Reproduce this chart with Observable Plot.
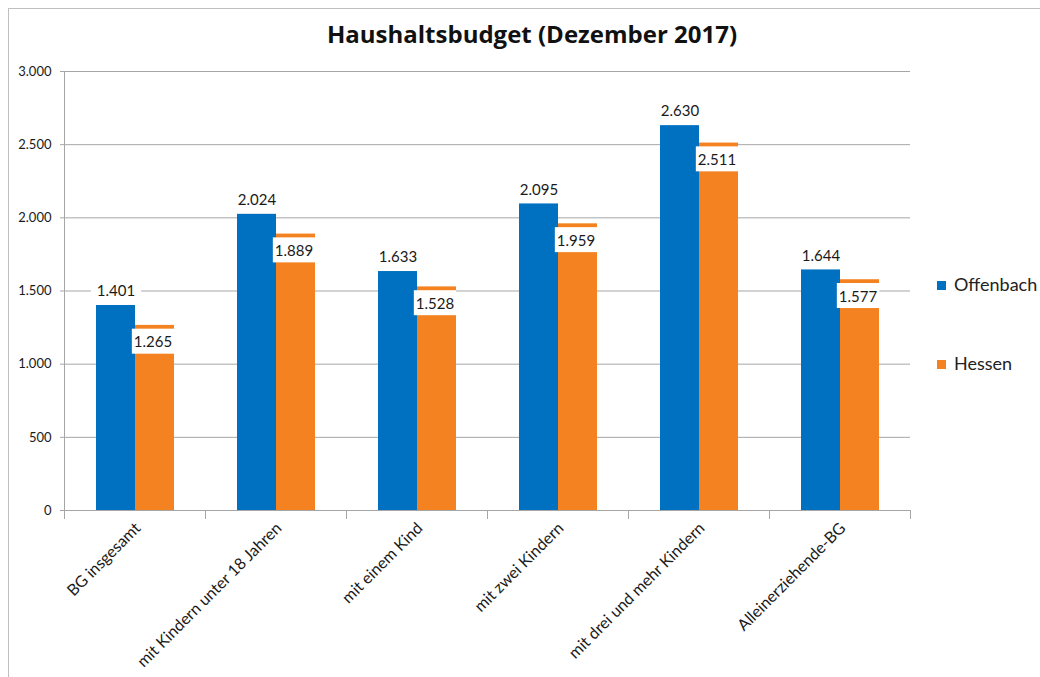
<!DOCTYPE html>
<html><head><meta charset="utf-8">
<script src="https://cdn.jsdelivr.net/npm/d3@7"></script>
<script src="https://cdn.jsdelivr.net/npm/@observablehq/plot@0.6"></script>
<style>
body{margin:0;background:#fff;font-family:Lato, "Open Sans", sans-serif;}
#wrap{position:relative;width:1040px;height:677px;overflow:hidden;background:#fff;}
#border{position:absolute;left:8px;top:8px;width:1100px;height:700px;border-left:1px solid #bfbfbf;border-top:1px solid #bfbfbf;}
#title{position:absolute;top:19px;left:0;width:1064px;text-align:center;font-family:"Open Sans", sans-serif;font-weight:bold;font-size:24px;line-height:30px;color:#111;}
#chart{position:absolute;left:0;top:0;}
.leg{position:absolute;left:937px;font-size:18px;color:#222;line-height:20px;height:20px;white-space:nowrap;}
.leg span.sw{display:inline-block;width:9px;height:9px;margin-right:8px;vertical-align:1px;}
</style>
</head><body>
<div id="wrap">
  <div id="border"></div>
  <div id="chart"></div>
  <div id="title">Haushaltsbudget (Dezember 2017)</div>
  <div id="legend"></div>
</div>
<script>
const categories = ["BG insgesamt","mit Kindern unter 18 Jahren","mit einem Kind","mit zwei Kindern","mit drei und mehr Kindern","Alleinerziehende-BG"];
const series = ["Offenbach","Hessen"];
const offenbach = [1401,2024,1633,2095,2630,1644];
const hessen = [1265,1889,1528,1959,2511,1577];
const yTicks = [0,500,1000,1500,2000,2500,3000];
const colors = ["#0070C0","#F58220"];

const de = d3.formatLocale({decimal:",",thousands:".",grouping:[3],currency:["","€"]});
const fmt = de.format(",");

const data = [];
categories.forEach((c,i)=>{
  data.push({cat:c, series:"Offenbach", value:offenbach[i]});
  data.push({cat:c, series:"Hessen", value:hessen[i]});
});
const gray = "#a6a6a6";

const chart = Plot.plot({
  width:1040, height:677,
  marginLeft:62, marginRight:128, marginTop:71, marginBottom:167,
  style:{fontFamily:"Lato, 'Open Sans', sans-serif", background:"transparent", color:"#1a1a1a"},
  fx:{domain:categories, paddingInner:0, paddingOuter:0, label:null},
  x:{domain:series, paddingInner:0, paddingOuter:0.77, axis:null},
  y:{domain:[0,3000], label:null},
  color:{domain:series, range:colors},
  marks:[
    Plot.gridY(yTicks.filter(d=>d>0), {stroke:gray, strokeOpacity:1}),
    Plot.axisY({ticks:yTicks, tickFormat:fmt, tickSize:4, tickPadding:9, fontSize:13, stroke:gray, strokeOpacity:1, label:null}),
    Plot.axisFx({anchor:"bottom", tickRotate:-45, tickSize:0, tickPadding:15, dx:3, fontSize:16, label:null}),
    Plot.barY(data, {fx:"cat", x:"series", y:"value", fill:"series"}),
    Plot.ruleY([0], {stroke:gray}),
    Plot.frame({anchor:"left", facetAnchor:"left", stroke:gray}),
    Plot.frame({anchor:"left", stroke:gray, insetTop:439, insetBottom:-8}),
    Plot.frame({anchor:"right", facetAnchor:"right", stroke:gray, insetTop:439, insetBottom:-8}),
    Plot.text(data.filter(d=>d.series==="Offenbach"), {fx:"cat", x:"series", y:"value", text:d=>fmt(d.value), dy:-14, fontSize:15, fill:"#1a1a1a", className:"lab-off"}),
    Plot.text(data.filter(d=>d.series==="Hessen"), {fx:"cat", x:"series", y:"value", text:d=>fmt(d.value), dy:17, dx:-2, fontSize:15, fill:"#1a1a1a", className:"lab-hes"})
  ]
});
document.getElementById("chart").appendChild(chart);

// white label boxes behind data labels
const svgNS = "http://www.w3.org/2000/svg";
["lab-off","lab-hes"].forEach(cls=>{
  const isHes = cls==="lab-hes";
  chart.querySelectorAll(`.${cls} text, text.${cls}`).forEach(t=>{
    const b = t.getBBox();
    const px = isHes ? 2 : 6, py = isHes ? 3.5 : 4;
    const r = document.createElementNS(svgNS,"rect");
    r.setAttribute("x", b.x-px); r.setAttribute("y", b.y-py);
    r.setAttribute("width", b.width+2*px); r.setAttribute("height", b.height+2*py);
    r.setAttribute("fill","#fff");
    const tr = t.getAttribute("transform"); if (tr) r.setAttribute("transform", tr);
    t.parentNode.insertBefore(r, t);
  });
});

const leg = document.getElementById("legend");
series.forEach((s,i)=>{
  const d = document.createElement("div");
  d.className = "leg";
  d.style.top = (i===0 ? 274 : 353) + "px";
  d.innerHTML = `<span class="sw" style="background:${colors[i]}"></span>${s}`;
  leg.appendChild(d);
});
</script>
</body></html>
